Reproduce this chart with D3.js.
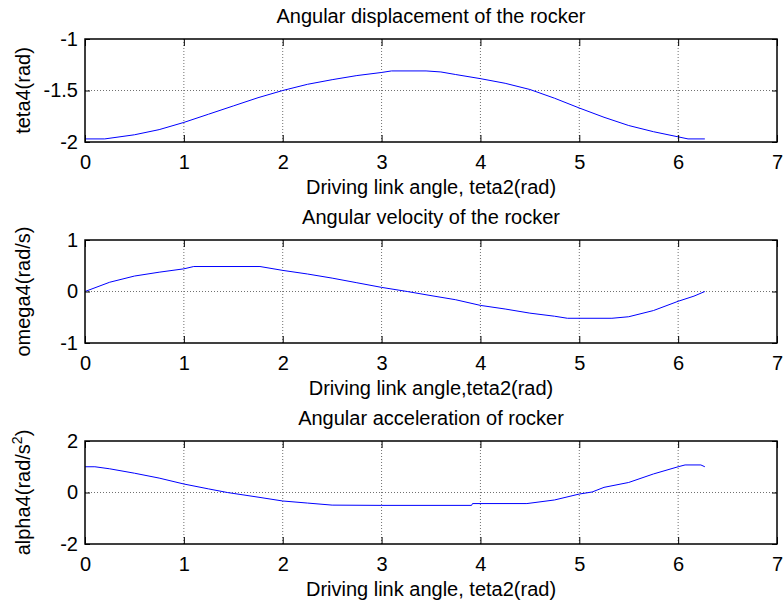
<!DOCTYPE html>
<html>
<head>
<meta charset="utf-8">
<script src="https://cdn.jsdelivr.net/npm/d3@7"></script>
<style>
  body { margin: 0; background: #fff; }
  text { font-family: "Liberation Sans", Arial, sans-serif; fill: #000; }
</style>
</head>
<body>
<script>
const w = 784, h = 606;

// driving link angle teta2 (rad) and rocker values
const teta2Disp = [0, 0.2, 0.5, 0.75, 1.0, 1.25, 1.5, 1.75, 2.0, 2.25, 2.5, 2.75, 3.0, 3.1, 3.45, 3.6, 3.75, 4.0, 4.25, 4.5, 4.75, 5.0, 5.25, 5.5, 5.75, 6.0, 6.1, 6.27];
const teta4 = [-1.97, -1.97, -1.93, -1.88, -1.81, -1.73, -1.65, -1.57, -1.50, -1.44, -1.395, -1.355, -1.325, -1.31, -1.31, -1.32, -1.345, -1.385, -1.43, -1.49, -1.575, -1.67, -1.76, -1.84, -1.90, -1.95, -1.97, -1.97];

const teta2Vel = [0, 0.25, 0.5, 0.75, 1.0, 1.1, 1.77, 2.0, 2.25, 2.5, 2.75, 3.0, 3.26, 3.5, 3.75, 4.0, 4.25, 4.5, 4.75, 4.88, 5.33, 5.5, 5.75, 6.0, 6.16, 6.27];
const omega4 = [0, 0.18, 0.30, 0.375, 0.44, 0.485, 0.485, 0.41, 0.34, 0.26, 0.17, 0.08, 0, -0.08, -0.16, -0.27, -0.34, -0.42, -0.48, -0.52, -0.52, -0.49, -0.37, -0.19, -0.09, 0];

const teta2Acc = [0, 0.1, 0.25, 0.5, 0.75, 1.0, 1.25, 1.44, 1.75, 2.0, 2.25, 2.5, 3.0, 3.91, 3.92, 4.47, 4.75, 5.0, 5.13, 5.25, 5.5, 5.75, 6.0, 6.07, 6.23, 6.27];
const alpha4 = [1.0, 1.0, 0.92, 0.75, 0.56, 0.33, 0.14, 0, -0.18, -0.33, -0.41, -0.49, -0.5, -0.5, -0.43, -0.43, -0.29, -0.06, 0.02, 0.2, 0.39, 0.72, 1.0, 1.07, 1.07, 1.0];

const xTicks = [0, 1, 2, 3, 4, 5, 6, 7];
const yTicks1 = [-2, -1.5, -1];
const yTicks2 = [-1, 0, 1];
const yTicks3 = [-2, 0, 2];

const titles = ["Angular displacement of the rocker", "Angular velocity of the rocker", "Angular acceleration of rocker"];
const xLabels = ["Driving link angle, teta2(rad)", "Driving link angle,teta2(rad)", "Driving link angle, teta2(rad)"];

const left = 85, right = 777, top0 = 39, ph = 103, step = 201;

var svg = d3.select("body").append("svg").attr("width", w).attr("height", h);
svg.append("rect").attr("width", w).attr("height", h).attr("fill", "#fff");

var x = d3.scaleLinear().domain([0, 7]).range([left, right]);

const panels = [
  { xs: teta2Disp, ys: teta4, ticks: yTicks1 },
  { xs: teta2Vel, ys: omega4, ticks: yTicks2 },
  { xs: teta2Acc, ys: alpha4, ticks: yTicks3 }
];

panels.forEach((p, i) => {
  let t = top0 + i*step;
  let b = t + ph;
  let y = d3.scaleLinear().domain(d3.extent(p.ticks)).range([b, t]);
  let g = svg.append("g");

  // dotted grid
  g.selectAll(".gx").data(xTicks.slice(1, -1)).enter().append("line")
    .attr("x1", d => x(d)).attr("x2", d => x(d)).attr("y1", t).attr("y2", b)
    .attr("stroke", "#707070").attr("stroke-dasharray", "1,2");
  g.selectAll(".gy").data(p.ticks.slice(1, -1)).enter().append("line")
    .attr("x1", left).attr("x2", right).attr("y1", d => y(d)).attr("y2", d => y(d))
    .attr("stroke", "#707070").attr("stroke-dasharray", "1,2");

  // curve
  g.append("path")
    .datum(p.xs.map((d, j) => [d, p.ys[j]]))
    .attr("fill", "none").attr("stroke", "#0000ff").attr("stroke-width", 1)
    .attr("d", d3.line().x(d => x(d[0])).y(d => y(d[1])));

  // axes with inward ticks
  g.append("g").attr("transform", "translate(0," + b + ")")
    .call(d3.axisBottom(x).tickValues(xTicks).tickSize(-7).tickSizeOuter(0).tickPadding(13).tickFormat(d3.format("d")));
  g.append("g").attr("transform", "translate(0," + t + ")")
    .call(d3.axisTop(x).tickValues(xTicks).tickSize(-7).tickSizeOuter(0).tickFormat(""));
  g.append("g").attr("transform", "translate(" + left + ",0)")
    .call(d3.axisLeft(y).tickValues(p.ticks).tickSize(-5).tickSizeOuter(0).tickPadding(7).tickFormat(d => String(d)));
  g.append("g").attr("transform", "translate(" + right + ",0)")
    .call(d3.axisRight(y).tickValues(p.ticks).tickSize(-5).tickSizeOuter(0).tickFormat(""));
  g.selectAll(".domain").remove();
  g.selectAll(".tick line").attr("stroke", "#000");
  g.selectAll(".tick text").attr("font-size", "20px").attr("font-family", "'Liberation Sans', Arial, sans-serif");

  g.append("rect")
    .attr("x", left).attr("y", t).attr("width", right - left).attr("height", ph)
    .attr("fill", "none").attr("stroke", "#000").attr("stroke-width", 1.5);

  // texts
  svg.append("text").text(titles[i])
    .attr("x", (left + right)/2).attr("y", t - 16)
    .attr("text-anchor", "middle").attr("font-size", "20px");
  svg.append("text").text(xLabels[i])
    .attr("x", (left + right)/2).attr("y", b + 52)
    .attr("text-anchor", "middle").attr("font-size", "20px");

  let yl = svg.append("text")
    .attr("transform", "translate(30," + (t + ph/2) + ") rotate(-90)")
    .attr("text-anchor", "middle").attr("font-size", "20px");
  if (i === 0) yl.text("teta4(rad)");
  if (i === 1) yl.text("omega4(rad/s)");
  if (i === 2) {
    yl.append("tspan").text("alpha4(rad/s");
    yl.append("tspan").text("2").attr("font-size", "14px").attr("dy", "-8");
    yl.append("tspan").text(")").attr("dy", "8");
  }
});
</script>
</body>
</html>
